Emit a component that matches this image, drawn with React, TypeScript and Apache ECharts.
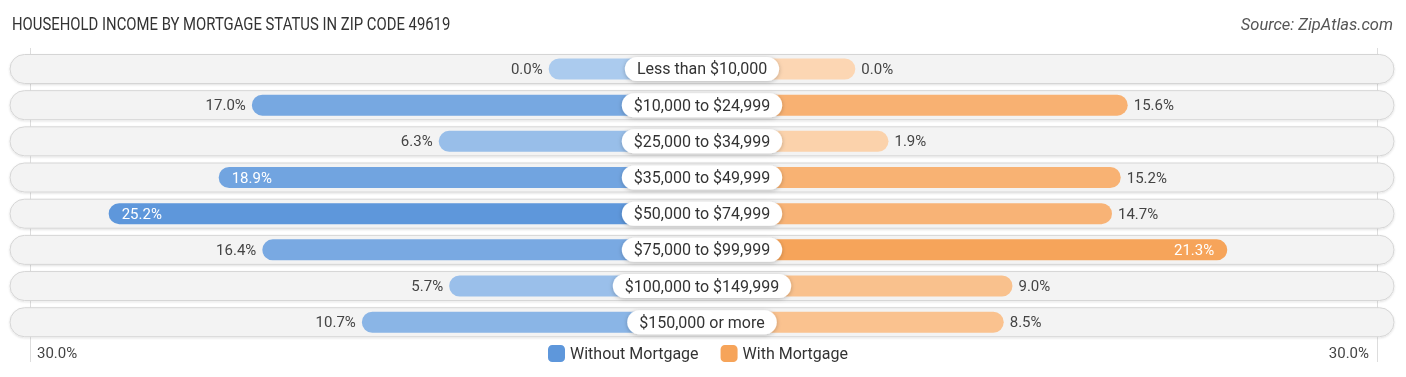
import React, { useEffect, useRef } from "react";
import * as echarts from "echarts";

const categories = [
  "Less than $10,000",
  "$10,000 to $24,999",
  "$25,000 to $34,999",
  "$35,000 to $49,999",
  "$50,000 to $74,999",
  "$75,000 to $99,999",
  "$100,000 to $149,999",
  "$150,000 or more",
];
const withoutMortgage = [0.0, 17.0, 6.3, 18.9, 25.2, 16.4, 5.7, 10.7];
const withMortgage = [0.0, 15.6, 1.9, 15.2, 14.7, 21.3, 9.0, 8.5];
const scaleLabels = ["30.0%", "30.0%"];
const seriesNames = ["Without Mortgage", "With Mortgage"];
const titleText = "HOUSEHOLD INCOME BY MORTGAGE STATUS IN ZIP CODE 49619";
const sourceText = "Source: ZipAtlas.com";

const OFFSET = 8.78; // half width of the center label zone, in % units
const AXIS_MAX = 39.63;
const INSIDE_THRESHOLD = 18;

const BLUE_LIGHT = [171, 203, 238];
const BLUE_DARK = [94, 151, 219];
const ORANGE_LIGHT = [252, 214, 179];
const ORANGE_DARK = [246, 164, 90];

function mix(a: number[], b: number[], t: number) {
  const c = a.map((v, i) => Math.round(v + (b[i] - v) * Math.max(0, Math.min(1, t))));
  return `rgb(${c[0]},${c[1]},${c[2]})`;
}

const FONT = "Roboto, 'Noto Sans', sans-serif";

export default function App() {
  const ref = useRef<HTMLDivElement>(null);

  useEffect(() => {
    if (!ref.current) return;
    const chart = echarts.init(ref.current, undefined, { renderer: "svg" });

    const maxBlue = Math.max(...withoutMortgage);
    const maxOrange = Math.max(...withMortgage);

    const leftData = withoutMortgage.map((v) => {
      const inside = v > INSIDE_THRESHOLD;
      return {
        value: -(OFFSET + v),
        itemStyle: { color: mix(BLUE_LIGHT, BLUE_DARK, v / maxBlue) },
        label: {
          position: inside ? "insideLeft" : "left",
          distance: inside ? 13 : 6,
          color: inside ? "#ffffff" : "#444444",
        },
      };
    });
    const rightData = withMortgage.map((v) => {
      const inside = v > INSIDE_THRESHOLD;
      return {
        value: OFFSET + v,
        itemStyle: { color: mix(ORANGE_LIGHT, ORANGE_DARK, v / maxOrange) },
        label: {
          position: inside ? "insideRight" : "right",
          distance: inside ? 13 : 6,
          color: inside ? "#ffffff" : "#444444",
        },
      };
    });

    const option: any = {
      animation: false,
      textStyle: { fontFamily: FONT },
      grid: { left: 10, right: 12, top: 50.9, height: 289.4, containLabel: false },
      xAxis: {
        type: "value",
        min: -AXIS_MAX,
        max: AXIS_MAX,
        show: false,
      },
      yAxis: [
        { type: "category", data: categories, inverse: true, show: false },
        { type: "category", data: categories, inverse: true, show: false },
      ],
      legend: {
        left: 548,
        top: 345,
        padding: 0,
        itemWidth: 17,
        itemHeight: 17,
        itemGap: 22,
        icon: "roundRect",
        textStyle: { fontSize: 16, color: "#333333", fontFamily: FONT },
        data: seriesNames,
      },
      graphic: [
        {
          type: "text",
          x: 12,
          y: 15,
          scaleX: 0.826,
          style: { text: titleText, fontSize: 18, fill: "#333333", fontFamily: FONT },
        },
        {
          type: "text",
          right: 13,
          top: 16,
          style: {
            text: sourceText,
            fontSize: 16.5,
            fontStyle: "italic",
            fill: "#555555",
            fontFamily: FONT,
          },
        },
        {
          type: "line",
          shape: { x1: 30.5, y1: 48, x2: 30.5, y2: 362 },
          style: { stroke: "#dddddd", lineWidth: 1 },
          z: 0,
        },
        {
          type: "line",
          shape: { x1: 1377.5, y1: 48, x2: 1377.5, y2: 362 },
          style: { stroke: "#dddddd", lineWidth: 1 },
          z: 0,
        },
        {
          type: "text",
          left: 37,
          top: 345,
          style: { text: scaleLabels[0], fontSize: 15, fill: "#444444", fontFamily: FONT },
        },
        {
          type: "text",
          right: 37,
          top: 345,
          style: { text: scaleLabels[1], fontSize: 15, fill: "#444444", fontFamily: FONT },
        },
      ],
      series: [
        {
          type: "bar",
          name: "bg",
          yAxisIndex: 1,
          barWidth: 29,
          data: categories.map(() => 0),
          itemStyle: { color: "transparent" },
          showBackground: true,
          backgroundStyle: {
            color: "#f3f3f3",
            borderColor: "#d6d6d6",
            borderWidth: 1,
            borderRadius: 14.5,
            shadowBlur: 2,
            shadowColor: "rgba(0,0,0,0.12)",
            shadowOffsetY: 1,
          },
          silent: true,
          z: 1,
        },
        {
          type: "bar",
          name: seriesNames[0],
          yAxisIndex: 0,
          stack: "total",
          barWidth: 21,
          itemStyle: { color: "rgb(94,151,219)", borderRadius: 10.5 },
          label: {
            show: true,
            fontSize: 15,
            fontFamily: FONT,
            formatter: (p: any) => withoutMortgage[p.dataIndex].toFixed(1) + "%",
          },
          data: leftData,
          z: 2,
        },
        {
          type: "bar",
          name: seriesNames[1],
          yAxisIndex: 0,
          stack: "total",
          barWidth: 21,
          itemStyle: { color: "rgb(246,164,90)", borderRadius: 10.5 },
          label: {
            show: true,
            fontSize: 15,
            fontFamily: FONT,
            formatter: (p: any) => withMortgage[p.dataIndex].toFixed(1) + "%",
          },
          data: rightData,
          z: 2,
        },
        {
          type: "custom",
          name: "labels",
          yAxisIndex: 0,
          silent: true,
          z: 10,
          data: categories.map((c, i) => [0, i]),
          renderItem: (params: any, api: any) => {
            const pt = api.coord([api.value(0), api.value(1)]);
            return {
              type: "text",
              x: pt[0],
              y: pt[1],
              z2: 100,
              style: {
                text: categories[params.dataIndex],
                fontSize: 16,
                fontFamily: FONT,
                fill: "#333333",
                align: "center",
                verticalAlign: "middle",
                backgroundColor: "#ffffff",
                borderRadius: 12,
                padding: [4, 12, 4, 12],
                shadowBlur: 4,
                shadowColor: "rgba(0,0,0,0.25)",
                shadowOffsetY: 1,
              },
            };
          },
        },
      ],
    };

    chart.setOption(option);
    return () => chart.dispose();
  }, []);

  return (
    <div
      ref={ref}
      style={{ position: "fixed", left: 0, top: 0, width: 1406, height: 377 }}
    />
  );
}
